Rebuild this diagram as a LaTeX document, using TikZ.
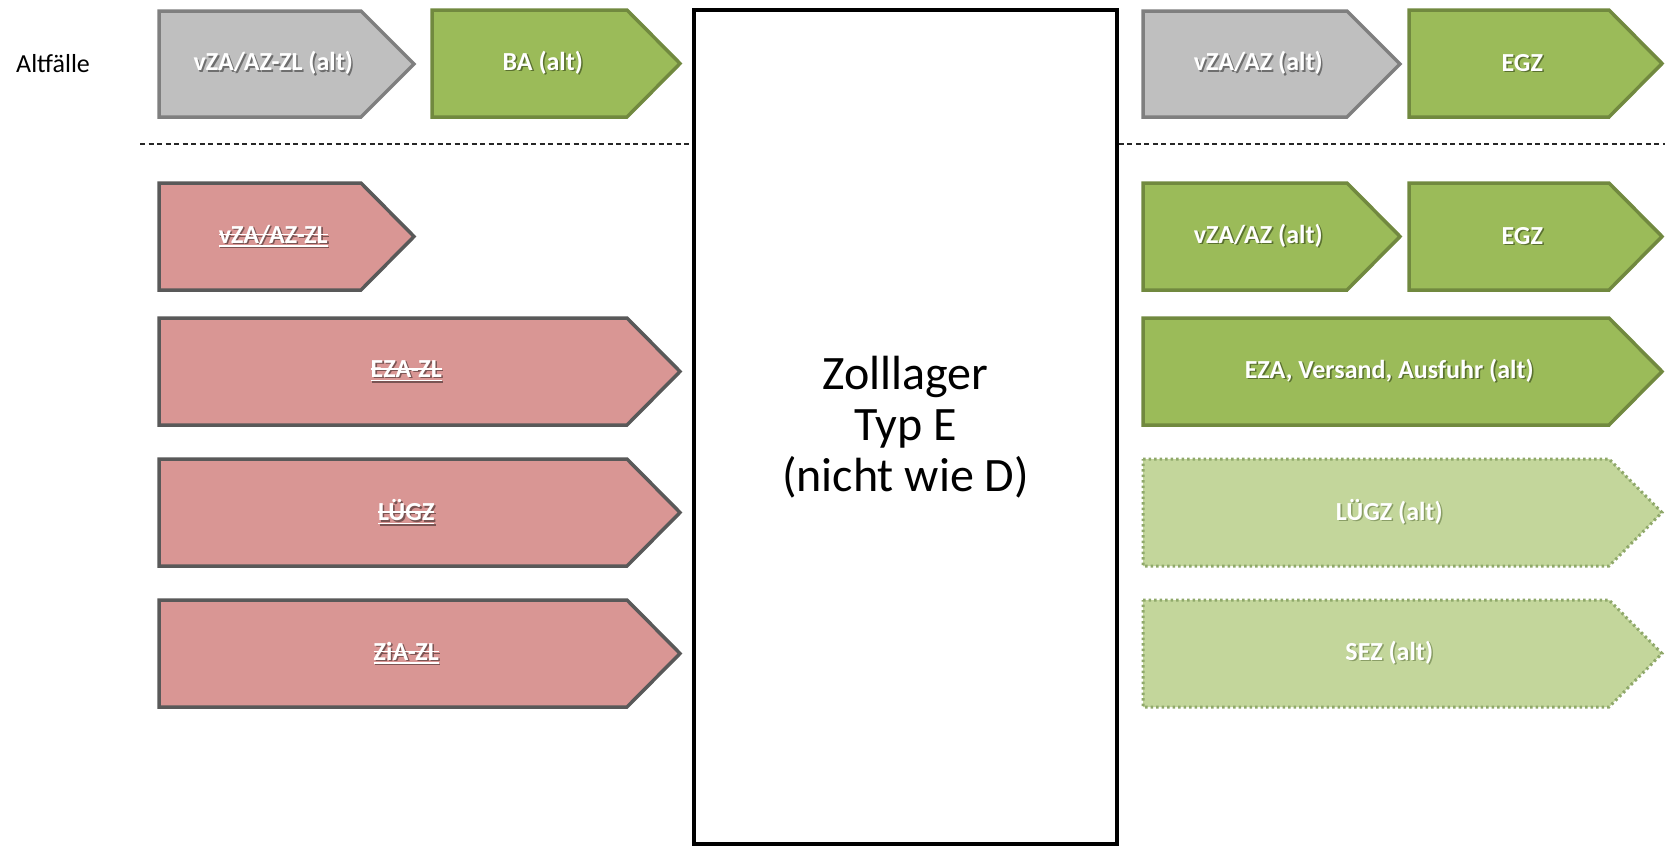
\documentclass[tikz,border=0pt]{standalone}
\usepackage{fontspec}
\setmainfont{Carlito}
\definecolor{grfill}{HTML}{BFBFBF}
\definecolor{grline}{HTML}{7F7F7F}
\definecolor{grsh}{HTML}{6E6E6E}
\definecolor{gnfill}{HTML}{9BBB59}
\definecolor{gnline}{HTML}{71893F}
\definecolor{gnsh}{HTML}{5A7030}
\definecolor{pkfill}{HTML}{D99694}
\definecolor{pkline}{HTML}{595959}
\definecolor{pksh}{HTML}{7A5453}
\definecolor{lgfill}{HTML}{C3D69B}
\definecolor{lgline}{HTML}{8FA86A}
\definecolor{lgsh}{HTML}{8A9E66}
\newsavebox\stbox
\newcommand\shd[2]{\makebox[0pt][l]{\hspace{1.6pt}\raisebox{-1.6pt}{\color{#1}#2}}#2}
\newcommand\su[1]{\sbox\stbox{#1}\rlap{\rule[0.3em]{\wd\stbox}{1.3pt}}\rlap{\rule[-0.14em]{\wd\stbox}{1.3pt}}\usebox\stbox}
\newcommand\hpbox[7]{%
  \path[#2] (#3,#4) -- ({#5-53},#4) -- (#5,{(#4+#6)/2}) -- ({#5-53},#6) -- (#3,#6) -- cycle;
  \node[lbl] (#1) at ({(#3+#5-26.5)/2},{(#4+#6)/2}) {\shd{#2sh}{#7}};%
}
\begin{document}
\begin{tikzpicture}[x=1pt,y=-1pt,
  gr/.style={fill=grfill, draw=grline, line width=3.5pt},
  gn/.style={fill=gnfill, draw=gnline, line width=3.5pt},
  pk/.style={fill=pkfill, draw=pkline, line width=3.5pt},
  lg/.style={fill=lgfill, draw=lgline, line width=3pt, dash pattern=on 2.5pt off 3pt},
  lbl/.style={text=white, font=\bfseries\fontsize{26}{30}\selectfont, inner sep=0pt},
  zlbox/.style={draw=black, line width=3.5pt, minimum width=423pt, minimum height=834pt,
     align=center, font=\fontsize{48}{51}\selectfont, inner sep=0pt},
  dl/.style={draw=black!85, line width=1.5pt, dash pattern=on 5pt off 3.5pt}]
\useasboundingbox (0,0) rectangle (1665,846);
\fill[white] (0,0) rectangle (1665,846);

\node[anchor=base west, font=\fontsize{26}{30}\selectfont, inner sep=0pt] (alt) at (16,72) {Altfälle};

\node[zlbox] (zl) at (905.5,427) {Zolllager\\Typ E\\(nicht wie D)};

\coordinate (dl1) at (140,144);
\coordinate (dl2) at (1665,144);
\draw[dl] (dl1) -- (dl1 -| zl.west);
\draw[dl] (zl.east |- dl1) -- (dl2);

\hpbox{a1}{gr}{159}{11}{414}{117}{vZA/AZ-ZL (alt)}
\hpbox{a2}{gn}{432}{10}{680}{117}{BA (alt)}
\hpbox{p1}{pk}{159}{183}{414}{290}{\su{vZA/AZ-ZL}}
\hpbox{p2}{pk}{159}{318}{680}{425}{\su{EZA-ZL}}
\hpbox{p3}{pk}{159}{459}{680}{566}{\su{LÜGZ}}
\hpbox{p4}{pk}{159}{600}{680}{707}{\su{ZiA-ZL}}

\hpbox{b1}{gr}{1143}{11}{1400}{117}{vZA/AZ (alt)}
\hpbox{b2}{gn}{1409}{10}{1662}{117}{EGZ}
\hpbox{c1}{gn}{1143}{183}{1400}{290}{vZA/AZ (alt)}
\hpbox{c2}{gn}{1409}{183}{1662}{290}{EGZ}
\hpbox{c3}{gn}{1143}{318}{1662}{425}{EZA, Versand, Ausfuhr (alt)}
\hpbox{c4}{lg}{1143}{459}{1662}{566}{LÜGZ (alt)}
\hpbox{c5}{lg}{1143}{600}{1662}{707}{SEZ (alt)}
\end{tikzpicture}
\end{document}
